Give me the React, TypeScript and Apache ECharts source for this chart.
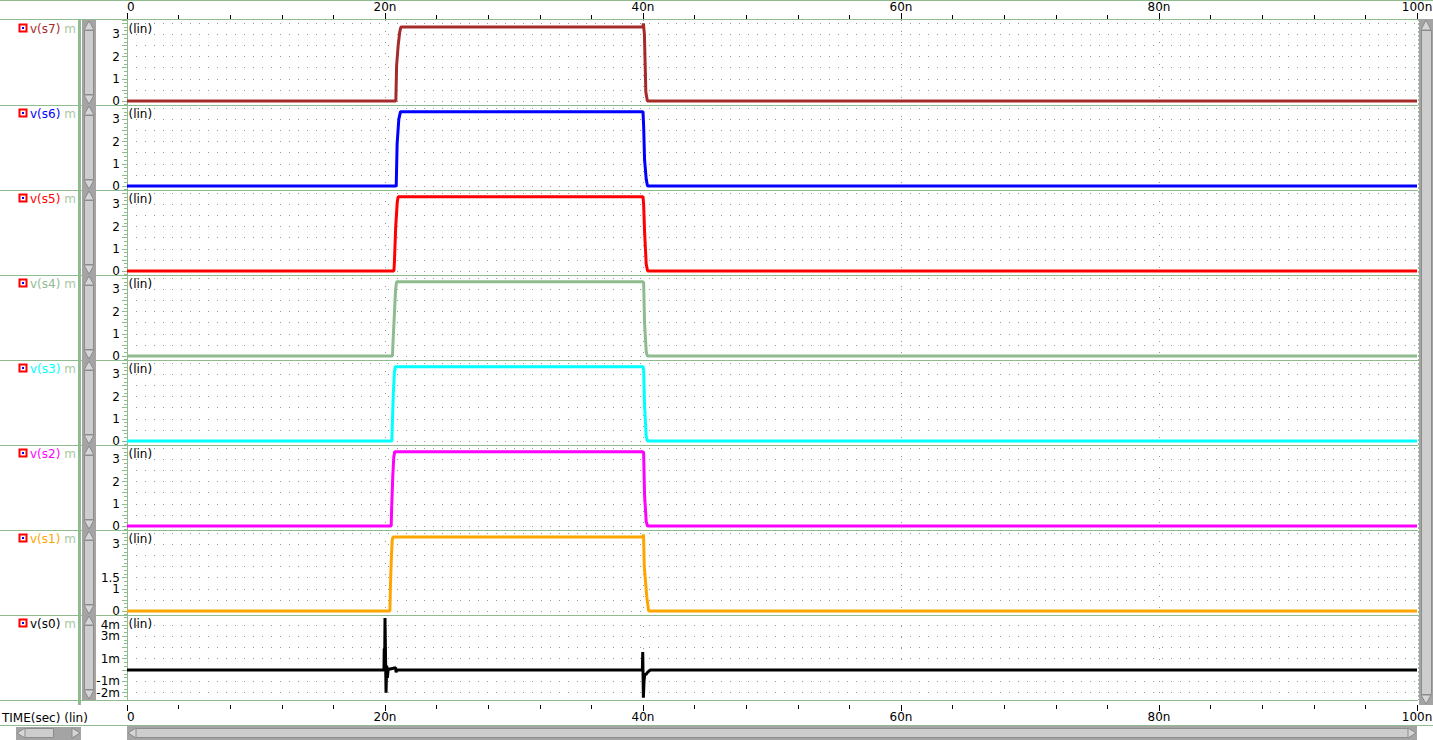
import React, { useEffect, useRef } from 'react';
import * as echarts from 'echarts';

// ---------- data ----------
const signalNames = ['v(s7)', 'v(s6)', 'v(s5)', 'v(s4)', 'v(s3)', 'v(s2)', 'v(s1)', 'v(s0)'];
const signalColors = ['#a52a2a', '#0000ff', '#ff0000', '#8fbc8f', '#00ffff', '#ff00ff', '#ffa500', '#000000'];

// time in ns, voltage in V
const timeS7 = [0, 20.84, 20.9, 21.02, 21.14, 21.23, 39.99, 40.03, 40.11, 40.22, 40.34, 100];
const voltS7 = [0, 0, 1.6, 2.5, 3.1, 3.33, 3.33, 3.5, 3.0, 0.4, 0, 0];

const timeS6 = [0, 20.87, 20.94, 21.07, 21.2, 40.0, 40.05, 40.12, 40.25, 40.35, 100];
const voltS6 = [0, 0, 1.9, 3.0, 3.35, 3.35, 2.7, 1.2, 0.3, 0, 0];

const timeS5 = [0, 20.69, 20.73, 20.83, 20.95, 21.02, 40.0, 40.05, 40.12, 40.25, 40.36, 100];
const voltS5 = [0, 0, 0.4, 2.0, 3.1, 3.35, 3.35, 3.0, 1.8, 0.3, 0, 0];

const timeS4 = [0, 20.58, 20.62, 20.72, 20.82, 20.9, 40.0, 40.05, 40.12, 40.25, 40.33, 100];
const voltS4 = [0, 0, 0.6, 1.8, 3.0, 3.35, 3.35, 3.3, 1.5, 0.2, 0, 0];

const timeS3 = [0, 20.53, 20.57, 20.65, 20.73, 20.8, 40.0, 40.05, 40.12, 40.25, 40.35, 100];
const voltS3 = [0, 0, 0.8, 2.2, 3.1, 3.35, 3.35, 3.2, 1.6, 0.2, 0, 0];

const timeS2 = [0, 20.48, 20.52, 20.6, 20.68, 20.75, 40.0, 40.05, 40.12, 40.25, 40.35, 100];
const voltS2 = [0, 0, 0.9, 2.2, 3.1, 3.35, 3.35, 3.3, 1.4, 0.2, 0, 0];

const timeS1 = [0, 20.38, 20.42, 20.5, 20.56, 20.62, 40.0, 40.04, 40.1, 40.3, 40.44, 100];
const voltS1 = [0, 0, 1.1, 2.5, 3.2, 3.33, 3.33, 3.45, 2.0, 0.6, 0, 0];

// v(s0) in mV
const timeS0 = [0, 19.92, 19.94, 19.97, 20.0, 20.08, 20.13, 20.18, 20.25, 20.4, 20.82, 20.86, 20.9, 39.95, 39.98, 40.03, 40.08, 40.13, 40.22, 40.35, 40.55, 100];
const milliVoltS0 = [0, 0, 1.9, 0.2, 4.6, -2.0, 0.4, -0.7, 0.1, 0.1, 0.2, -0.2, 0, 0, 1.6, -2.45, -1.0, -0.4, -0.4, -0.2, 0, 0];

const signalTimes = [timeS7, timeS6, timeS5, timeS4, timeS3, timeS2, timeS1, timeS0];
const signalValues = [voltS7, voltS6, voltS5, voltS4, voltS3, voltS2, voltS1, milliVoltS0];

const timeTickLabels: Record<number, string> = { 0: '0', 20: '20n', 40: '40n', 60: '60n', 80: '80n', 100: '100n' };
const yLabelsDigital = [0, 1, 2, 3];
const yLabelsS1 = [0, 1, 1.5, 3];
const yLabelsS0 = [4, 3, 1, -1, -2];

// ---------- styling ----------
const GREEN = '#8fbc8f';
const FONT = '"DejaVu Sans", sans-serif';
const PANEL_TOP = 20;
const PANEL_H = 85;
const PLOT_LEFT = 127;
const PLOT_W = 1290;

function buildOption() {
  const n = signalNames.length;
  const grids: any[] = [];
  const xAxes: any[] = [];
  const yAxes: any[] = [];
  const series: any[] = [];
  const graphics: any[] = [];

  for (let i = 0; i < n; i++) {
    const top = PANEL_TOP + PANEL_H * i;
    const isFirst = i === 0;
    const isLast = i === n - 1;
    const isS0 = i === n - 1;
    grids.push({ left: PLOT_LEFT, top, width: PLOT_W, height: PANEL_H, containLabel: false, outerBoundsMode: 'none' });
    const showAxis = isFirst || isLast;
    xAxes.push({
      gridIndex: i,
      type: 'value',
      min: 0,
      max: 100,
      interval: 20,
      position: isFirst ? 'top' : 'bottom',
      offset: isFirst ? 1 : isLast ? 5 : 0,
      axisLine: { show: false, onZero: false },
      axisTick: { show: showAxis, length: 6, lineStyle: { color: '#000', width: 1 } },
      minorTick: { show: showAxis, splitNumber: 5, length: 4, lineStyle: { color: '#000', width: 1 } },
      axisLabel: {
        show: showAxis,
        formatter: (v: number) => timeTickLabels[Math.round(v)] ?? '',
        fontFamily: FONT,
        fontSize: 12,
        color: '#000',
        margin: 6,
        alignMinLabel: 'left',
      },
      splitLine: { show: true, showMinLine: false, showMaxLine: false, lineStyle: { color: '#999', type: [1, 10], width: 1 } },
      minorSplitLine: { show: false },
    });
    const labelSet = isS0 ? yLabelsS0 : i === n - 2 ? yLabelsS1 : yLabelsDigital;
    yAxes.push({
      gridIndex: i,
      type: 'value',
      min: isS0 ? -2.65 : -0.18,
      max: isS0 ? 4.87 : 3.65,
      splitNumber: isS0 ? 7 : 8,
      axisLine: { show: true, onZero: false, lineStyle: { color: GREEN, width: 1 } },
      axisTick: { show: true, length: 5, lineStyle: { color: GREEN, width: 1 } },
      minorTick: { show: true, splitNumber: 3, length: 3, lineStyle: { color: GREEN, width: 1 } },
      axisLabel: {
        showMinLabel: false,
        showMaxLabel: false,
        formatter: (v: number) => {
          const hit = labelSet.find((l) => Math.abs(l - v) < 1e-6);
          if (hit === undefined) return '';
          return isS0 ? `${hit}m` : `${hit}`;
        },
        fontFamily: FONT,
        fontSize: 12,
        color: '#000',
        margin: 7,
      },
      splitLine: { show: true, showMinLine: false, showMaxLine: false, lineStyle: { color: '#999', type: [1, 8], width: 1 } },
    });
    const t = signalTimes[i];
    const v = signalValues[i];
    series.push({
      type: 'line',
      name: signalNames[i],
      xAxisIndex: i,
      yAxisIndex: i,
      data: t.map((tt, k) => [tt, v[k]]),
      showSymbol: false,
      symbol: 'none',
      clip: true,
      silent: true,
      lineStyle: { color: signalColors[i], width: 3 },
      itemStyle: { color: signalColors[i] },
      z: 3,
    });
  }

  const hline = (x1: number, x2: number, y: number, color = GREEN, w = 1) => ({
    type: 'line', silent: true, z: 1,
    shape: { x1, y1: y, x2, y2: y },
    style: { stroke: color, lineWidth: w },
  });
  const rect = (x: number, y: number, w: number, h: number, fill: string, stroke?: string) => ({
    type: 'rect', silent: true, z: 5,
    shape: { x, y, width: w, height: h },
    style: { fill, stroke: stroke ?? null, lineWidth: 1 },
  });
  const poly = (pts: number[][]) => ({
    type: 'polygon', silent: true, z: 6,
    shape: { points: pts },
    style: { fill: '#d6d6d6', stroke: '#8c8c8c', lineWidth: 1 },
  });
  const text = (x: number, y: number, s: string, color: string, align = 'left') => ({
    type: 'text', silent: true, z: 7, x, y,
    style: {
      text: s, fill: color, font: `12px ${FONT}`,
      align, textAlign: align, verticalAlign: 'middle', textVerticalAlign: 'middle',
    },
  });

  const TROUGH = '#a4a4a4';
  const THUMB = '#cdcdcd';
  const THUMB_STROKE = '#8c8c8c';

  // borders
  graphics.push(hline(0, 1433, 0.5));
  graphics.push(hline(0, 1433, 19.5));
  for (let i = 1; i < n; i++) graphics.push(hline(0, 1418, PANEL_TOP + PANEL_H * i + 0.5));
  graphics.push(hline(0, 1418, PANEL_TOP + PANEL_H * n + 0.5));
  graphics.push(hline(0, 1433, 725.5));
  graphics.push({ ...rect(78, 19, 3, 686, GREEN), z: 1 });
  graphics.push({
    type: 'line', silent: true, z: 1,
    shape: { x1: 1418.5, y1: 19, x2: 1418.5, y2: 700 },
    style: { stroke: GREEN, lineWidth: 1, lineDash: [2, 2] },
  });

  // panel decorations
  for (let i = 0; i < n; i++) {
    const T = PANEL_TOP + PANEL_H * i;
    const B = T + PANEL_H;
    graphics.push(rect(82, T, 14, PANEL_H, TROUGH));
    graphics.push(poly([[89, T + 1], [84, T + 10], [94, T + 10]]));
    graphics.push(rect(84.5, T + 10.5, 9, 64, THUMB, THUMB_STROKE));
    graphics.push(poly([[84, B - 10], [94, B - 10], [89, B - 1]]));
    graphics.push({
      type: 'rect', silent: true, z: 7,
      shape: { x: 19.5, y: T + 4.5, width: 7, height: 7 },
      style: { fill: '#fff', stroke: '#ff0000', lineWidth: 2 },
    });
    graphics.push({ ...rect(22, T + 7, 2, 2, '#0000ff'), z: 8 });
    graphics.push(text(30, T + 8.5, signalNames[i], signalColors[i]));
    graphics.push(text(64.2, T + 8.5, 'm', '#a8c8a0'));
    graphics.push(text(128.5, T + 8.5, '(lin)', '#000'));
  }

  // right scrollbar
  graphics.push(rect(1419, 19, 14, 686, TROUGH));
  graphics.push(poly([[1426, 20], [1421, 30], [1431, 30]]));
  graphics.push(rect(1421.5, 30.5, 10, 664, THUMB, THUMB_STROKE));
  graphics.push(poly([[1421, 695], [1431, 695], [1426, 704]]));

  // bottom scrollbars
  graphics.push(rect(16, 727, 65, 13, TROUGH));
  graphics.push(rect(23.5, 728.5, 30, 9, THUMB, THUMB_STROKE));
  graphics.push(poly([[17, 733], [25, 728], [25, 738]]));
  graphics.push(poly([[72, 728], [72, 738], [80, 733]]));

  graphics.push(rect(127, 726, 1290, 14, TROUGH));
  graphics.push(rect(135.5, 728.5, 1273, 9, THUMB, THUMB_STROKE));
  graphics.push(poly([[128, 733], [136, 728], [136, 738]]));
  graphics.push(poly([[1408, 728], [1408, 738], [1416, 733]]));

  graphics.push(text(2, 718, 'TIME(sec) (lin)', '#000'));

  return {
    animation: false,
    backgroundColor: '#ffffff',
    textStyle: { fontFamily: FONT },
    grid: grids,
    xAxis: xAxes,
    yAxis: yAxes,
    series,
    graphic: { elements: graphics },
  };
}

export default function App() {
  const ref = useRef<HTMLDivElement>(null);
  useEffect(() => {
    if (!ref.current) return;
    const chart = echarts.init(ref.current, null, { renderer: 'svg' });
    chart.setOption(buildOption() as any);
    return () => chart.dispose();
  }, []);
  return (
    <div
      ref={ref}
      style={{ position: 'fixed', left: 0, top: 0, width: 1433, height: 740, background: '#fff' }}
    />
  );
}
